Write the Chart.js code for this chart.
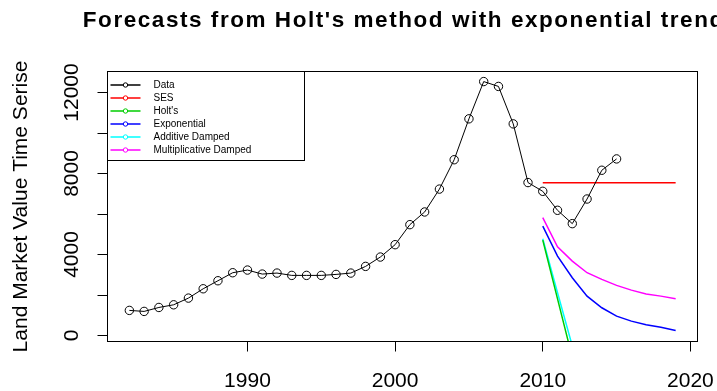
<!DOCTYPE html>
<html>
<head>
<meta charset="utf-8">
<script src="https://cdn.jsdelivr.net/npm/chart.js@4.4.1/dist/chart.umd.min.js"></script>
<style>
  body { margin: 0; background: #fff; }
</style>
</head>
<body>
<canvas id="forecast-chart" width="717" height="391"></canvas>
<script>
// land market value, yearly
const years = [1982, 1983, 1984, 1985, 1986, 1987, 1988, 1989, 1990, 1991,
  1992, 1993, 1994, 1995, 1996, 1997, 1998, 1999, 2000, 2001,
  2002, 2003, 2004, 2005, 2006, 2007, 2008, 2009, 2010, 2011,
  2012, 2013, 2014, 2015];
const landValue = [1240, 1190, 1385, 1517, 1847, 2308, 2704, 3100, 3232, 3034,
  3083, 2968, 2968, 2968, 3017, 3083, 3413, 3875, 4485, 5474,
  6100, 7230, 8680, 10700, 12540, 12300, 10450, 7552, 7120, 6183,
  5524, 6740, 8160, 8720];

// forecasts (all start at 2010)
const fcYears = [2010, 2011, 2012, 2013, 2014, 2015, 2016, 2017, 2018, 2019];
const sesFc = [7540, 7540, 7540, 7540, 7540, 7540, 7540, 7540, 7540, 7540];
const holtFc = [4710, 1810, -1090, -3990, -6890, -9790, -12690, -15590, -18490, -21390];
const expFc = [5405, 3920, 2850, 1945, 1370, 955, 710, 530, 410, 250];
const addDampedFc = [4780, 2110, -520, -3100, -5630, -8110, -10540, -12920, -15250, -17530];
const mulDampedFc = [5820, 4380, 3675, 3100, 2770, 2475, 2240, 2045, 1945, 1815];

const xTicks = [1990, 2000, 2010, 2020];
const yTicks = [0, 2000, 4000, 6000, 8000, 10000, 12000];
const yLabelled = [0, 4000, 8000, 12000];

const FONT = '"Liberation Sans", Arial, sans-serif';

function pts(xs, ys) {
  return xs.map((x, i) => ({ x: x, y: ys[i] }));
}

function fcLine(label, color, values) {
  return {
    label: label,
    data: pts(fcYears, values),
    borderColor: color,
    backgroundColor: color,
    borderWidth: 1.5,
    pointRadius: 0
  };
}

// R style extras: box, rotated y labels, titles and the legend box
const rStyle = {
  id: 'rStyle',
  afterDraw(chart) {
    const ctx = chart.ctx;
    const a = chart.chartArea;
    const x = chart.scales.x, y = chart.scales.y;
    ctx.save();
    ctx.strokeStyle = '#000';
    ctx.lineWidth = 1;
    ctx.strokeRect(a.left, a.top, a.right - a.left, a.bottom - a.top);

    ctx.fillStyle = '#000';
    ctx.font = '21px ' + FONT;
    ctx.textAlign = 'center';
    ctx.textBaseline = 'alphabetic';
    x.ticks.forEach(t => ctx.fillText(String(t.value), x.getPixelForValue(t.value), a.bottom + 45));

    y.ticks.forEach(t => {
      if (!yLabelled.includes(t.value)) return;
      ctx.save();
      ctx.translate(a.left - 30, y.getPixelForValue(t.value));
      ctx.rotate(-Math.PI / 2);
      ctx.fillText(String(t.value), 0, 0);
      ctx.restore();
    });

    ctx.save();
    ctx.translate(27, (a.top + a.bottom) / 2);
    ctx.rotate(-Math.PI / 2);
    ctx.fillText('Land Market Value Time Serise', 0, 0);
    ctx.restore();

    // main title
    ctx.font = 'bold 22.5px ' + FONT;
    ctx.textAlign = 'left';
    if ('letterSpacing' in ctx) ctx.letterSpacing = '1.55px';
    ctx.fillText("Forecasts from Holt's method with exponential trend", 82.8, 27.3);
    if ('letterSpacing' in ctx) ctx.letterSpacing = '0px';

    // legend box top-left inside plot
    const lx = a.left, ly = a.top, lw = 197, lh = 89;
    ctx.fillStyle = '#fff';
    ctx.fillRect(lx, ly, lw, lh);
    ctx.strokeRect(lx, ly, lw, lh);
    ctx.font = '10px ' + FONT;
    ctx.textBaseline = 'middle';
    chart.data.datasets.forEach((ds, i) => {
      const cy = ly + 13.5 + i * 13;
      ctx.strokeStyle = ds.borderColor;
      ctx.lineWidth = 1.5;
      ctx.beginPath();
      ctx.moveTo(lx + 3, cy);
      ctx.lineTo(lx + 33, cy);
      ctx.stroke();
      ctx.lineWidth = 1;
      ctx.beginPath();
      ctx.arc(lx + 18, cy, 2.2, 0, Math.PI * 2);
      ctx.fillStyle = '#fff';
      ctx.fill();
      ctx.stroke();
      ctx.fillStyle = '#000';
      ctx.fillText(ds.label, lx + 46, cy + 0.5);
    });
    ctx.restore();
  }
};

new Chart(document.getElementById('forecast-chart'), {
  type: 'line',
  data: {
    datasets: [
      {
        label: 'Data',
        data: pts(years, landValue),
        borderColor: '#000',
        backgroundColor: '#000',
        borderWidth: 1,
        pointRadius: 4.2,
        pointBorderWidth: 1,
        pointBackgroundColor: 'rgba(0,0,0,0)',
        pointBorderColor: '#000'
      },
      fcLine('SES', '#FF0000', sesFc),
      fcLine("Holt's", '#00CD00', holtFc),
      fcLine('Exponential', '#0000FF', expFc),
      fcLine('Additive Damped', '#00FFFF', addDampedFc),
      fcLine('Multiplicative Damped', '#FF00FF', mulDampedFc)
    ]
  },
  options: {
    responsive: false,
    animation: false,
    layout: { padding: { top: 71.5, right: 19.5, left: 0, bottom: 0 } },
    plugins: {
      legend: { display: false },
      title: { display: false },
      tooltip: { enabled: false }
    },
    scales: {
      x: {
        type: 'linear',
        min: 1980.52,
        max: 2020.48,
        afterBuildTicks: s => { s.ticks = xTicks.map(v => ({ value: v })); },
        afterFit: s => { s.height = 49.5; },
        ticks: { display: false },
        border: { display: false },
        grid: { drawOnChartArea: false, drawTicks: true, tickLength: 10, color: '#000', tickColor: '#000' }
      },
      y: {
        min: -296,
        max: 13037,
        afterBuildTicks: s => { s.ticks = yTicks.map(v => ({ value: v })); },
        afterFit: s => { s.width = 107.5; },
        ticks: { display: false },
        border: { display: false },
        grid: { drawOnChartArea: false, drawTicks: true, tickLength: 10, color: '#000', tickColor: '#000' }
      }
    }
  },
  plugins: [rStyle]
});
</script>
</body>
</html>
